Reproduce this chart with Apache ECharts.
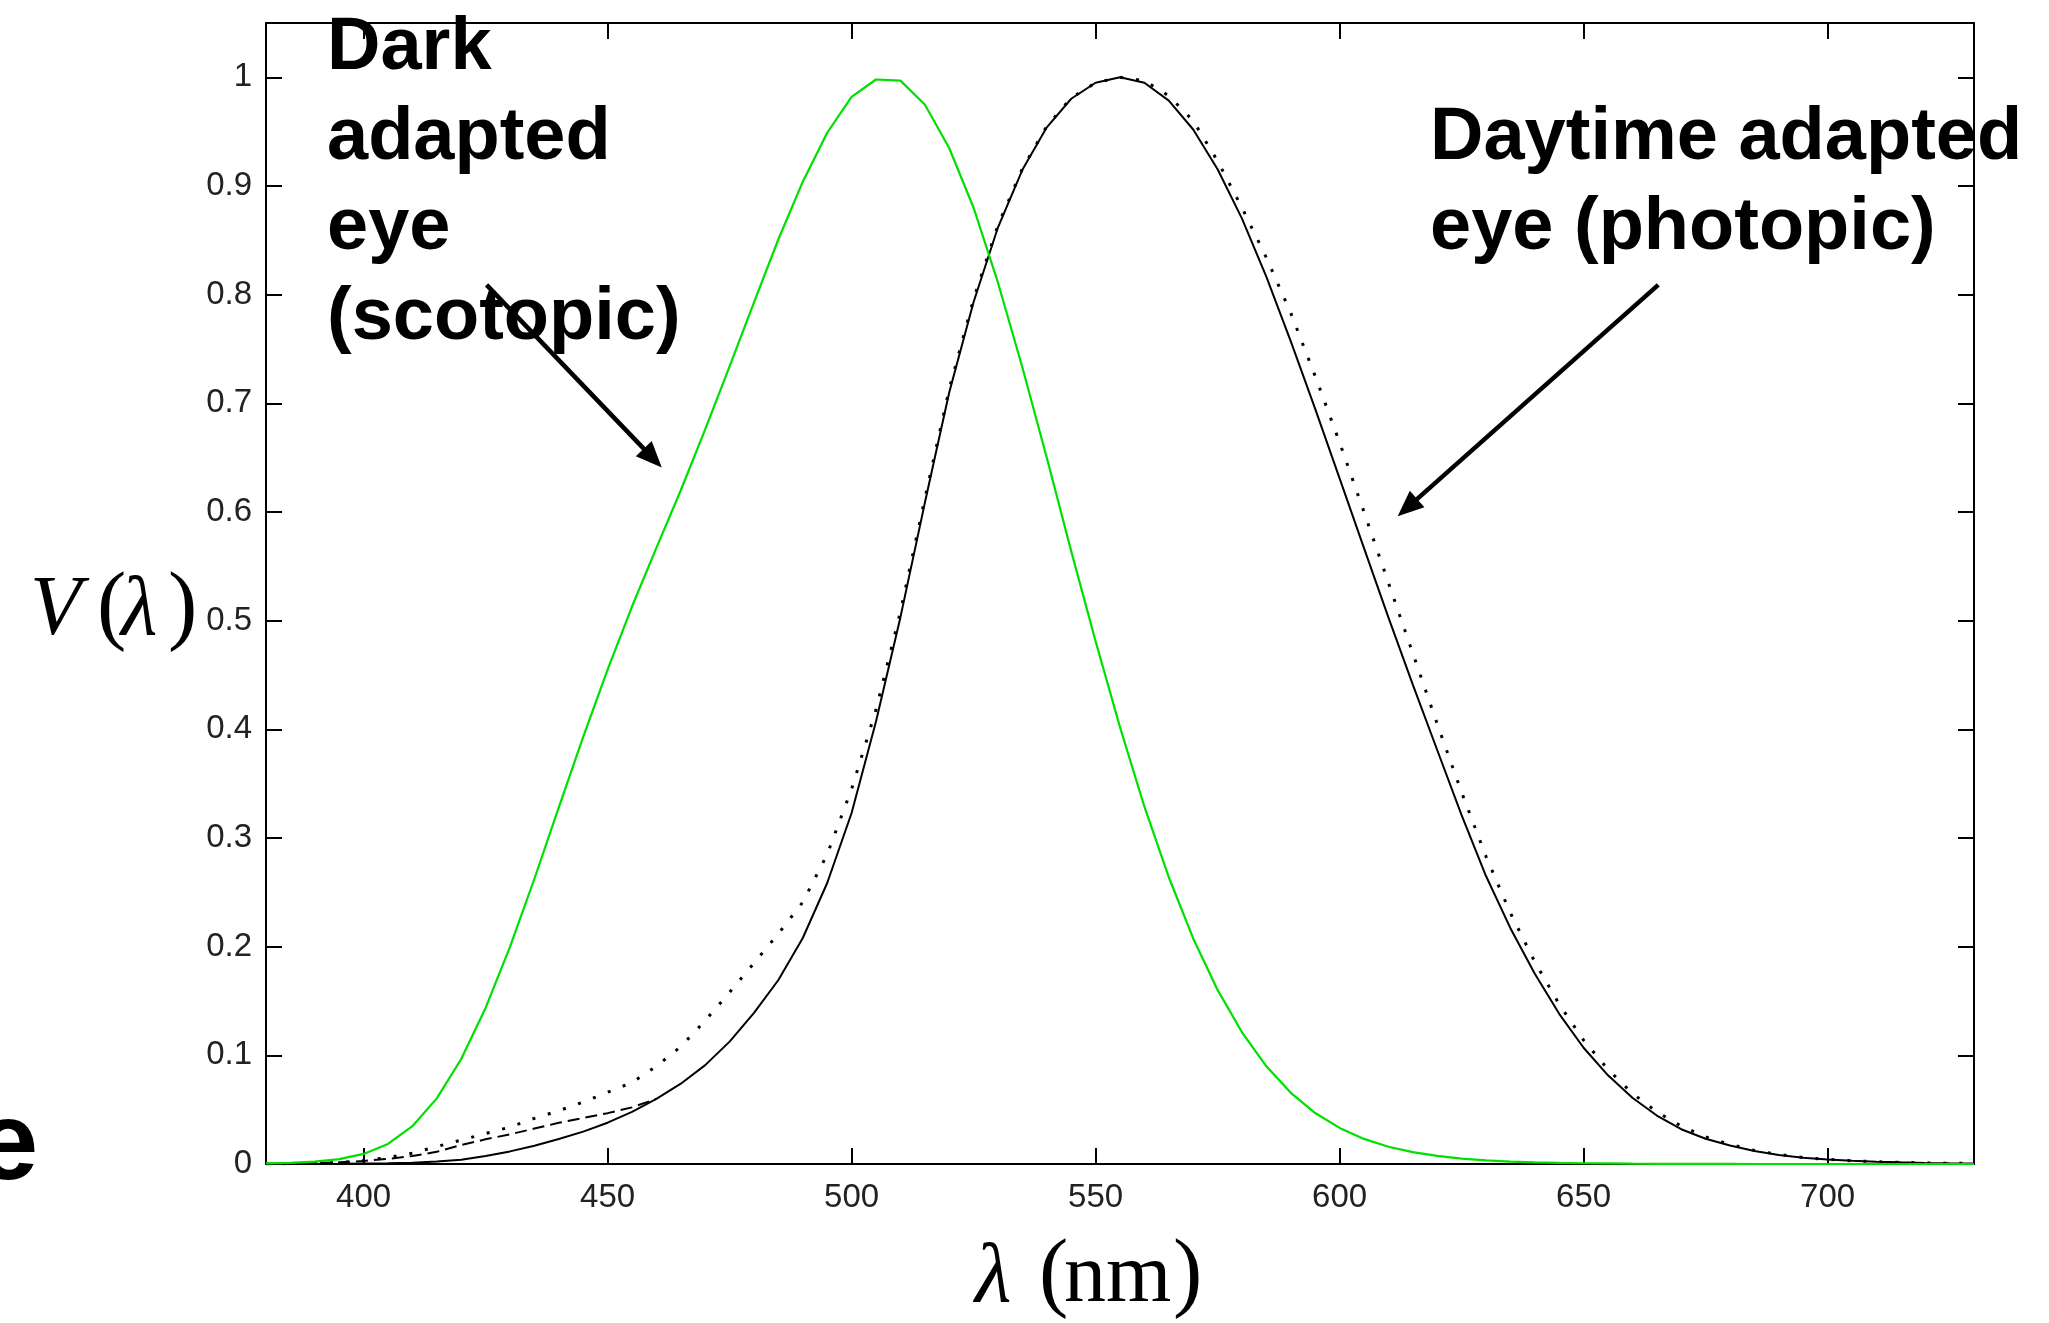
<!DOCTYPE html>
<html>
<head>
<meta charset="utf-8">
<script src="https://cdn.jsdelivr.net/npm/echarts@6/dist/echarts.min.js"></script>
<style>
html,body{margin:0;padding:0;background:#fff;}
#c{width:2049px;height:1323px;}
</style>
</head>
<body>
<div id="c"></div>
<script>
// ---------- data ----------
const wavelengths = [380,385,390,395,400,405,410,415,420,425,430,435,440,445,450,455,460,465,470,475,480,485,490,495,500,505,510,515,520,525,530,535,540,545,550,555,560,565,570,575,580,585,590,595,600,605,610,615,620,625,630,635,640,645,650,655,660,665,670,675,680,685,690,695,700,705,710,715,720,725,730];

// green: dark adapted (scotopic)
const scotopic = [0.0006,0.0011,0.0022,0.0045,0.0093,0.0185,0.0348,0.0604,0.0966,0.1436,0.1998,0.2625,0.3281,0.3931,0.455,0.513,0.567,0.62,0.676,0.734,0.793,0.851,0.904,0.949,0.982,0.998,0.997,0.975,0.935,0.88,0.811,0.733,0.65,0.564,0.481,0.402,0.3288,0.2639,0.2076,0.1602,0.1212,0.0899,0.0655,0.0469,0.0332,0.0231,0.0159,0.0109,0.0074,0.005,0.0033,0.0022,0.0015,0.001,0.0007,0.0005,0.0003,0.0002,0.0001,0.0001,0.0001,0,0,0,0,0,0,0,0,0,0];

// black solid: daytime adapted (photopic)
const photopic = [0.0000,0.0001,0.0001,0.0002,0.0004,0.0006,0.0012,0.0022,0.004,0.0073,0.0116,0.0168,0.023,0.0298,0.038,0.048,0.06,0.0739,0.091,0.1126,0.139,0.1693,0.208,0.2586,0.323,0.4073,0.503,0.6082,0.71,0.7932,0.862,0.9149,0.954,0.9803,0.995,1.0,0.995,0.9786,0.952,0.9154,0.87,0.8163,0.757,0.6949,0.631,0.5668,0.503,0.4412,0.381,0.321,0.265,0.217,0.175,0.1382,0.107,0.0816,0.061,0.0446,0.032,0.0232,0.017,0.0119,0.0082,0.0057,0.0041,0.0029,0.0021,0.0015,0.001,0.0007,0.0005];

// black dotted: alternative photopic curve
const photopicDotted = [0.0001,0.0003,0.0006,0.0013,0.003,0.006,0.01,0.016,0.022,0.028,0.034,0.042,0.049,0.057,0.066,0.075,0.09,0.108,0.132,0.158,0.185,0.212,0.241,0.285,0.345,0.418,0.508,0.612,0.713,0.796,0.864,0.916,0.955,0.981,0.995,1.0,0.997,0.983,0.96,0.923,0.88,0.834,0.783,0.725,0.664,0.6,0.535,0.47,0.405,0.342,0.283,0.231,0.186,0.147,0.114,0.087,0.065,0.048,0.035,0.025,0.018,0.0125,0.0088,0.006,0.0043,0.003,0.0021,0.0015,0.001,0.0007,0.0005];

// black dashed: corrected photopic curve (only differs in the blue)
const dashedWavelengths = [380,385,390,395,400,405,410,415,420,425,430,435,440,445,450,455,460];
const photopicDashed = [0.0002,0.0004,0.0008,0.0015,0.0028,0.0047,0.0074,0.0112,0.0175,0.0227,0.0273,0.0326,0.0379,0.0424,0.0468,0.0521,0.06];

// axes
const xMin = 380, xMax = 730;
const yMin = 0, yMax = 1.05;
const xTicks = [400,450,500,550,600,650,700];
const yTicks = [0,0.1,0.2,0.3,0.4,0.5,0.6,0.7,0.8,0.9,1];

// annotation arrows (data coordinates: [wavelength, value])
const scotopicArrow = {from:[425.2,0.809], to:[461.1,0.641]};
const photopicArrow = {from:[665.3,0.809], to:[611.9,0.596]};

// ---------- chart ----------
const pairs = (xs, ys) => xs.map((x,i)=>[x, ys[i]]);
const tickFont = '"Liberation Sans", Arial, sans-serif';

const axisCommon = {
  type:'value',
  axisLine:{show:true, onZero:false, lineStyle:{color:'#000', width:2}},
  splitLine:{show:false}
};

const option = {
  animation:false,
  backgroundColor:'#fff',
  grid:{left:266, right:75, top:23, bottom:159, show:false},
  xAxis:[
    Object.assign({}, axisCommon, {
      position:'bottom', min:xMin, max:xMax,
      axisTick:{show:true, inside:true, length:16, customValues:xTicks, lineStyle:{color:'#000', width:2}},
      axisLabel:{show:true, customValues:xTicks, margin:17, color:'#222', fontSize:33, fontFamily:tickFont}
    }),
    Object.assign({}, axisCommon, {
      position:'top', min:xMin, max:xMax,
      axisTick:{show:true, inside:true, length:16, customValues:xTicks, lineStyle:{color:'#000', width:2}},
      axisLabel:{show:false}
    })
  ],
  yAxis:[
    Object.assign({}, axisCommon, {
      position:'left', min:yMin, max:yMax,
      axisTick:{show:true, inside:true, length:16, customValues:yTicks, lineStyle:{color:'#000', width:2}},
      axisLabel:{show:true, customValues:yTicks, margin:14, color:'#222', fontSize:33, fontFamily:tickFont,
        formatter:v=>String(Math.round(v*10)/10)}
    }),
    Object.assign({}, axisCommon, {
      position:'right', min:yMin, max:yMax,
      axisTick:{show:true, inside:true, length:16, customValues:yTicks, lineStyle:{color:'#000', width:2}},
      axisLabel:{show:false}
    })
  ],
  series:[
    {type:'line', name:'photopic', data:pairs(wavelengths, photopic), showSymbol:false, smooth:false,
      lineStyle:{color:'#000', width:2}, z:3},
    {type:'line', name:'photopic dashed', data:pairs(dashedWavelengths, photopicDashed), showSymbol:false,
      lineStyle:{color:'#000', width:2, type:[12,6]}, z:3},
    {type:'line', name:'photopic dotted', data:pairs(wavelengths, photopicDotted), showSymbol:false,
      lineStyle:{color:'#000', width:3, type:[3,13]}, z:3},
    {type:'line', name:'scotopic', data:pairs(wavelengths, scotopic), showSymbol:false,
      lineStyle:{color:'#00e000', width:2.2}, z:4}
  ]
};

const chart = echarts.init(document.getElementById('c'), null, {renderer:'canvas'});
chart.setOption(option);

const toPx = v => chart.convertToPixel({gridIndex:0}, v);
function arrowEls(a){
  const s = toPx(a.from), t = toPx(a.to);
  const ang = Math.atan2(t[1]-s[1], t[0]-s[0]);
  const L = 26, W = 11;
  const bx = t[0]-L*Math.cos(ang), by = t[1]-L*Math.sin(ang);
  const nx = -Math.sin(ang), ny = Math.cos(ang);
  return [
    {type:'line', z:100, shape:{x1:s[0], y1:s[1], x2:bx+2*Math.cos(ang), y2:by+2*Math.sin(ang)}, style:{stroke:'#000', lineWidth:4.5}},
    {type:'polygon', z:100, shape:{points:[[t[0],t[1]],[bx+nx*W,by+ny*W],[bx-nx*W,by-ny*W]]}, style:{fill:'#000'}}
  ];
}
// text placed by its alphabetic baseline
function txt(text, x, baseline, size, weightStyle, family, ascentRatio){
  return {type:'text', z:100, style:{
    text:text, x:x, y:baseline - ascentRatio*size,
    font: weightStyle + ' ' + size + 'px ' + family,
    fill:'#000', textAlign:'left', textVerticalAlign:'middle', align:'left', verticalAlign:'middle'
  }};
}
const sans = '"Liberation Sans", Arial, Helvetica, sans-serif';
const serif = '"Liberation Serif", "Times New Roman", serif';
const SA = 0.3465, SE = 0.3375;

const graphics = [].concat(
  arrowEls(scotopicArrow),
  arrowEls(photopicArrow),
  [
    txt('Dark', 327, 74, 74, 'bold', sans, SA),
    txt('adapted', 327, 164, 74, 'bold', sans, SA),
    txt('eye', 327, 254, 74, 'bold', sans, SA),
    txt('(scotopic)', 327, 344, 74, 'bold', sans, SA),
    txt('Daytime adapted', 1430, 164, 74, 'bold', sans, SA),
    txt('eye (photopic)', 1430, 254, 74, 'bold', sans, SA),
    txt('e', -24, 1187, 112, 'bold', sans, SA),
    // y-axis label V(λ)
    txt('V', 30, 640, 84, 'italic', serif, SE),
    txt('(', 97, 640, 88, 'normal', serif, SE),
    txt('λ', 121, 640, 84, 'italic', serif, SE),
    txt(')', 168, 640, 88, 'normal', serif, SE),
    // x-axis label λ (nm)
    txt('λ', 975, 1307, 84, 'italic', serif, SE),
    txt('(', 1039, 1307, 88, 'normal', serif, SE),
    txt('nm', 1064, 1307, 84, 'normal', serif, SE),
    txt(')', 1173, 1307, 88, 'normal', serif, SE)
  ]
);
chart.setOption({graphic:graphics});
</script>
</body>
</html>
